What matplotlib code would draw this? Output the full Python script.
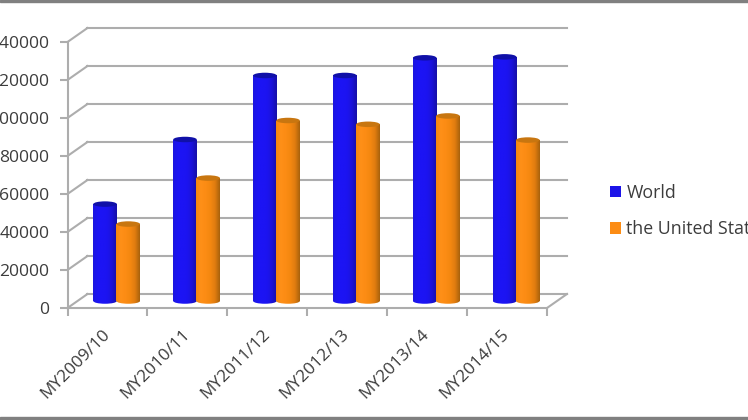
import matplotlib

matplotlib.use("Agg")
import matplotlib.pyplot as plt
import numpy as np
from matplotlib.colors import LinearSegmentedColormap
from matplotlib.patches import Ellipse, Patch, Rectangle

CATEGORIES = ["MY2009/10", "MY2010/11", "MY2011/12", "MY2012/13", "MY2013/14", "MY2014/15"]
WORLD = [51000, 85000, 118700, 118700, 128000, 128500]
USA = [40500, 64700, 95000, 93000, 97400, 84700]
YTICKS = [0, 20000, 40000, 60000, 80000, 100000, 120000, 140000]

WIDTH_PX, HEIGHT_PX = 748, 420
LEFT, RIGHT, TOP, BOTTOM = 67.5, 547, 42, 308

# 3d look: how far the back wall sits behind the front plane
DEPTH_X = 20 / 80
DEPTH_Y = 14 / 38 * 20000

BAR_WIDTH = 0.295
ELLIPSE_H = 2900
GRID = "#adadad"
TEXT = "#3c3c3c"

plt.rcParams["font.family"] = ["Open Sans", "DejaVu Sans"]


def draw_cylinder(ax, center, value, colors, top_color, zorder):
    base = DEPTH_Y / 2
    top = base + value
    left = center - BAR_WIDTH / 2
    cmap = LinearSegmentedColormap.from_list("shade", colors)
    body = ax.imshow(
        np.linspace(0, 1, 64).reshape(1, -1),
        cmap=cmap,
        extent=(left, left + BAR_WIDTH, base - ELLIPSE_H, top),
        aspect="auto",
        zorder=zorder,
    )
    clip = Rectangle((left, base), BAR_WIDTH, value, transform=ax.transData)
    foot = Ellipse((center, base), BAR_WIDTH, ELLIPSE_H, transform=ax.transData)
    body.set_clip_path(clip)
    # the rounded foot needs its own copy because an image has one clip path
    foot_img = ax.imshow(
        np.linspace(0, 1, 64).reshape(1, -1),
        cmap=cmap,
        extent=(left, left + BAR_WIDTH, base - ELLIPSE_H, top),
        aspect="auto",
        zorder=zorder,
    )
    foot_img.set_clip_path(foot)
    ax.add_patch(
        Ellipse((center, top), BAR_WIDTH, ELLIPSE_H, facecolor=top_color, edgecolor="none", zorder=zorder + 0.1)
    )


def main():
    fig = plt.figure(figsize=(WIDTH_PX / 100, HEIGHT_PX / 100), dpi=100)
    ax = fig.add_axes(
        [
            LEFT / WIDTH_PX,
            1 - BOTTOM / HEIGHT_PX,
            (RIGHT - LEFT) / WIDTH_PX,
            (BOTTOM - TOP) / HEIGHT_PX,
        ]
    )
    ax.patch.set_visible(False)

    n = len(CATEGORIES)
    for tick in YTICKS:
        ax.plot([0, DEPTH_X], [tick, tick + DEPTH_Y], color=GRID, lw=1.5, clip_on=False, zorder=1)
        ax.plot([DEPTH_X, n + DEPTH_X], [tick + DEPTH_Y] * 2, color=GRID, lw=1.5, clip_on=False, zorder=1)
    ax.plot([n, n + DEPTH_X], [0, DEPTH_Y], color=GRID, lw=1.5, clip_on=False, zorder=1)

    blue = ["#1c16e0", "#1c14f4", "#1c14f4", "#1c14f0", "#1a12d8", "#1610a8"]
    orange = ["#f4880f", "#ff9018", "#fc8c14", "#f48810", "#e07c10", "#a8620c"]
    for i in range(n):
        draw_cylinder(ax, i + 0.47, WORLD[i], blue, "#1010a8", 3 + i)
        draw_cylinder(ax, i + 0.76, USA[i], orange, "#c87610", 3.5 + i)

    ax.set_xlim(0, n)
    ax.set_ylim(0, YTICKS[-1])
    for side in ["top", "right"]:
        ax.spines[side].set_visible(False)
    for side in ["left", "bottom"]:
        ax.spines[side].set_color(GRID)
        ax.spines[side].set_linewidth(1.5)

    ax.set_yticks(YTICKS)
    ax.set_yticklabels([str(t) for t in YTICKS], fontsize=12.6, color=TEXT)
    ax.set_xticks(range(n + 1))
    ax.set_xticklabels([])
    ax.set_xticks(np.arange(n) + 0.43, minor=True)
    ax.set_xticklabels(
        CATEGORIES,
        minor=True,
        rotation=45,
        ha="right",
        va="top",
        rotation_mode="anchor",
        fontsize=12.4,
        color=TEXT,
    )
    ax.tick_params(axis="both", which="major", color=GRID, width=1.5, length=6)
    ax.tick_params(axis="y", pad=7)
    ax.tick_params(axis="x", which="minor", length=0, pad=13)

    handles = [
        Patch(facecolor="#1c14e8", label="World"),
        Patch(facecolor="#fc8c14", label="the United States"),
    ]
    fig.legend(
        handles=handles,
        loc="center left",
        bbox_to_anchor=(598 / WIDTH_PX, 1 - 211 / HEIGHT_PX),
        frameon=False,
        fontsize=12.8,
        labelcolor=TEXT,
        handlelength=0.62,
        handleheight=0.62,
        handletextpad=0.27,
        labelspacing=1.02,
        borderpad=0.2,
    )

    # grey picture frame at the top and bottom
    fig.add_artist(Rectangle((0, 1 - 2 / HEIGHT_PX), 1, 2 / HEIGHT_PX, transform=fig.transFigure, color="#808080"))
    fig.add_artist(Rectangle((0, 0), 1, 3 / HEIGHT_PX, transform=fig.transFigure, color="#808080"))

    fig.savefig("out.png", dpi=100)


if __name__ == "__main__":
    main()
